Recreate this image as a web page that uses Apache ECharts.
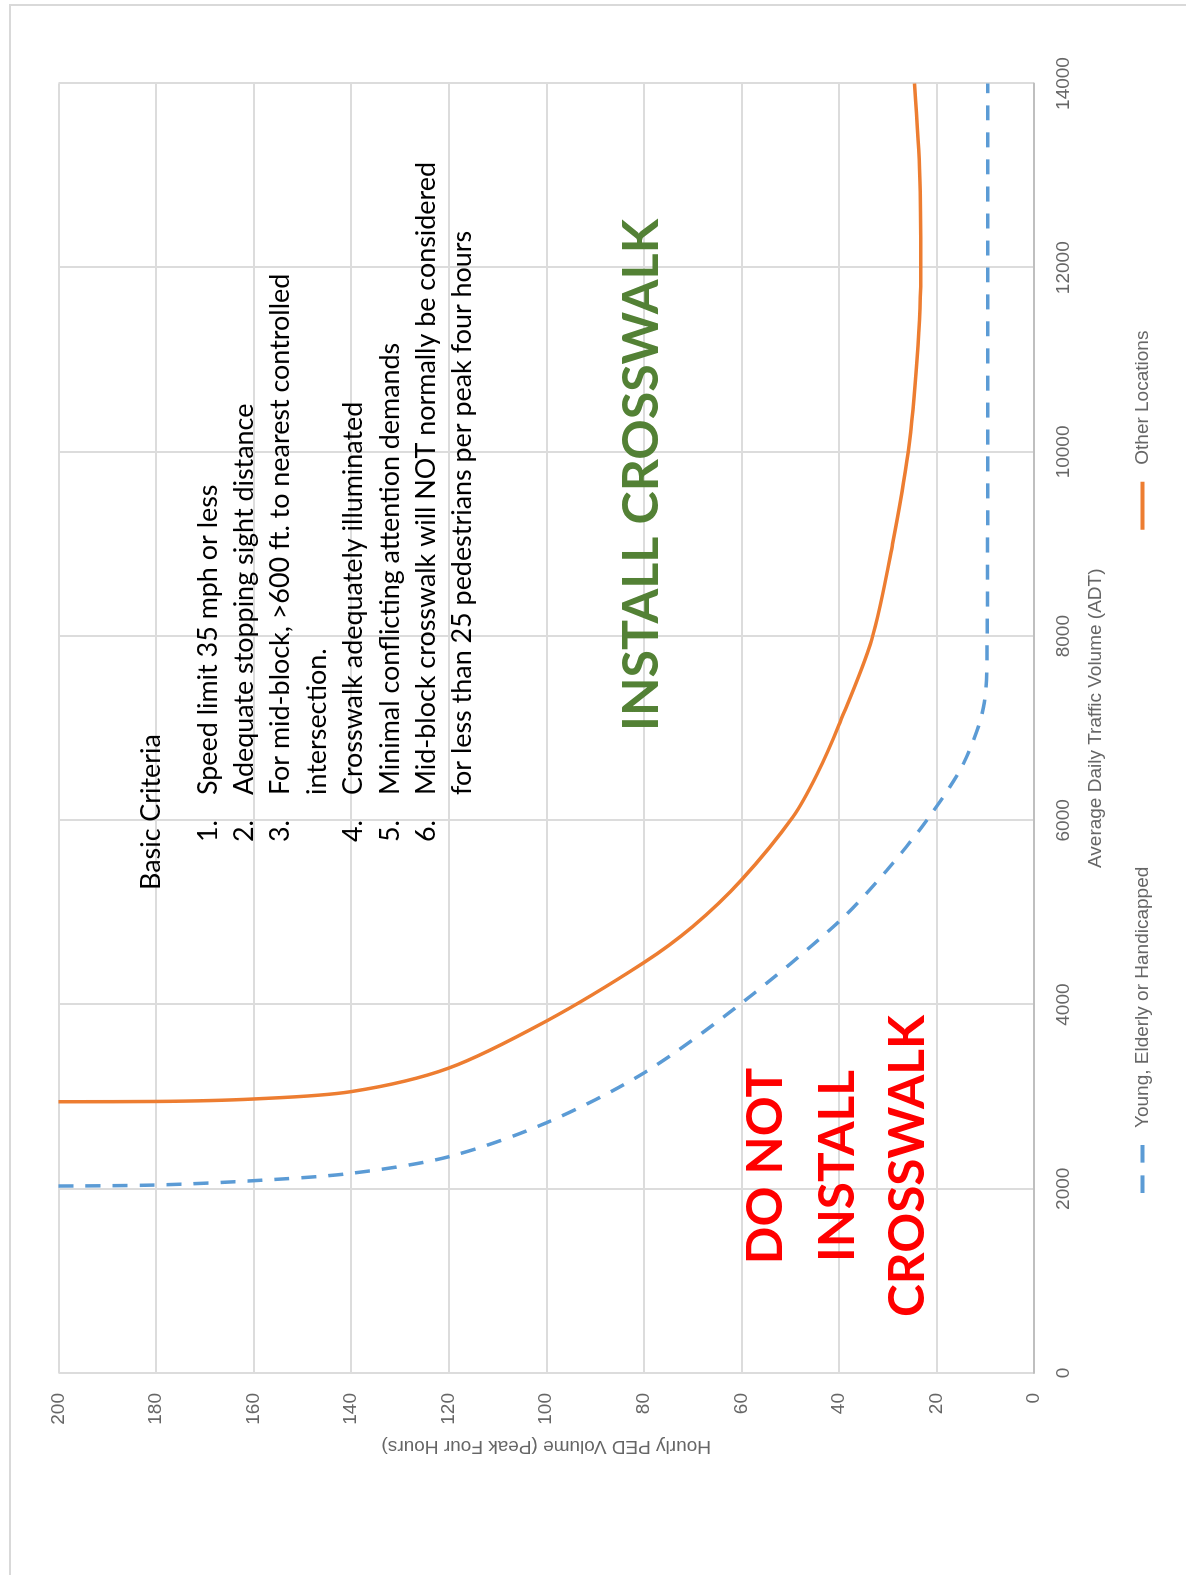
<!DOCTYPE html>
<html>
<head>
<meta charset="utf-8">
<script src="https://cdn.jsdelivr.net/npm/echarts@6/dist/echarts.min.js"></script>
<style>
  html, body { margin: 0; padding: 0; background: #fff; overflow: hidden; }
  /* chart is drawn landscape, then turned a quarter turn to the left */
  #chart {
    position: absolute; left: 0; top: 0;
    width: 1575px; height: 1186px;
    transform-origin: 0 0;
    transform: translate(0, 1575px) rotate(-90deg);
  }
</style>
</head>
<body>
<div id="chart"></div>
<script>
// ADT / hourly PED pairs
const otherAdt = [2945, 2948, 2975, 3055, 3310, 3820, 4455, 4846, 5352, 6040, 6500, 7035, 7958, 9000, 10000, 11000, 12000, 13000, 14000];
const otherPed = [200, 180, 160, 140, 120, 100, 80, 70, 60, 49.4, 44.5, 40, 33.3, 29.0, 25.8, 24.0, 23.2, 23.4, 24.5];
const youngAdt = [2030, 2041, 2088, 2168, 2348, 2716, 3257, 4014, 4900, 5450, 6022, 6623, 7274, 8000, 10000, 12000, 14000];
const youngPed = [200, 180, 160, 140, 120, 100, 80, 60, 40, 30.3, 21.7, 14.4, 10.2, 9.6, 9.5, 9.5, 9.5];

const seriesNames = ['Young, Elderly or Handicapped', 'Other Locations'];
const criteriaTitle = 'Basic Criteria';
const criteriaNums = ['1.', '2.', '3.', '', '4.', '5.', '6.', ''];
const criteriaText = [
  'Speed limit 35 mph or less',
  'Adequate stopping sight distance',
  'For mid-block, >600 ft. to nearest controlled',
  'intersection.',
  'Crosswalk adequately illuminated',
  'Minimal conflicting attention demands',
  'Mid-block crosswalk will NOT normally be considered',
  'for less than 25 pedestrians per peak four hours'
];
const installText = 'INSTALL CROSSWALK';
const doNotText = ['DO NOT', 'INSTALL', 'CROSSWALK'];

// size a font so a given string takes a given width
const measureCtx = document.createElement('canvas').getContext('2d');
function fitSize(text, weight, family, width) {
  measureCtx.font = weight + ' 100px ' + family;
  return 100 * width / measureCtx.measureText(text).width;
}

const bodyFont = 'Lato, "Open Sans", sans-serif';
const listSize = fitSize(criteriaText[6], 'normal', bodyFont, 634);
const greenSize = fitSize(installText, 'bold', bodyFont, 512);
const redSize = fitSize(doNotText[2], 'bold', bodyFont, 302);

const pairs = (xs, ys) => xs.map((x, i) => [x, ys[i]]);

const graphics = [
  {
    type: 'rect', z: 100,
    shape: { x: -10, y: 10, width: 1580, height: 1200 },
    style: { fill: 'none', stroke: '#d9d9d9', lineWidth: 2 },
    silent: true
  },
  {
    type: 'text', x: 685, y: 151, z: 100,
    style: { text: criteriaTitle, font: listSize.toFixed(1) + 'px ' + bodyFont, fill: '#000', textVerticalAlign: 'middle' }
  }
];

criteriaText.forEach((line, i) => {
  const v = 208 + i * 36.4;
  if (criteriaNums[i]) {
    graphics.push({
      type: 'text', x: 733, y: v, z: 100,
      style: { text: criteriaNums[i], font: listSize.toFixed(1) + 'px ' + bodyFont, fill: '#000', textVerticalAlign: 'middle' }
    });
  }
  graphics.push({
    type: 'text', x: 780, y: v, z: 100,
    style: { text: line, font: listSize.toFixed(1) + 'px ' + bodyFont, fill: '#000', textVerticalAlign: 'middle' }
  });
});

graphics.push({
  type: 'text', x: 1100, y: 642, z: 100,
  style: {
    text: installText, font: 'bold ' + greenSize.toFixed(1) + 'px ' + bodyFont,
    fill: '#538135', textAlign: 'center', textVerticalAlign: 'middle'
  }
});

[766, 838, 908].forEach((v, i) => {
  graphics.push({
    type: 'text', x: 409, y: v, z: 100,
    style: {
      text: doNotText[i], font: 'bold ' + redSize.toFixed(1) + 'px ' + bodyFont,
      fill: '#ff0000', textAlign: 'center', textVerticalAlign: 'middle'
    }
  });
});

const chart = echarts.init(document.getElementById('chart'));

const labelFont = '"Liberation Sans", Arial, sans-serif';

chart.setOption({
  animation: false,
  backgroundColor: '#fff',
  textStyle: { fontFamily: labelFont },
  grid: { left: 202, right: 83.5, top: 58.5, bottom: 152, containLabel: false },
  legend: {
    data: [
      { name: seriesNames[0], icon: 'path://M0,0H18V4H0Z M31,0H49V4H31Z' },
      { name: seriesNames[1], icon: 'rect' }
    ],
    left: 377,
    top: 1128,
    itemWidth: 48,
    itemHeight: 4,
    itemGap: 337,
    textStyle: { fontSize: 19, color: '#666', padding: [0, 0, 0, 12] }
  },
  xAxis: {
    type: 'value',
    min: 0,
    max: 14000,
    interval: 2000,
    name: 'Average Daily Traffic Volume (ADT)',
    nameLocation: 'middle',
    nameGap: 52,
    nameTextStyle: { fontSize: 19, color: '#666', padding: [0, 0, 0, 20] },
    axisLine: { show: true, lineStyle: { color: '#bfbfbf', width: 2 } },
    axisTick: { show: false },
    axisLabel: { fontSize: 19, color: '#666', margin: 20, formatter: (v) => String(v) },
    splitLine: { show: true, lineStyle: { color: '#dcdcdc', width: 2 } }
  },
  yAxis: {
    type: 'value',
    min: 0,
    max: 200,
    interval: 20,
    name: 'Hourly PED Volume (Peak Four Hours)',
    nameLocation: 'middle',
    nameGap: 64,
    nameTextStyle: { fontSize: 19, color: '#666' },
    axisLine: { show: false },
    axisTick: { show: false },
    axisLabel: { fontSize: 19, color: '#666', margin: 20 },
    splitLine: { show: true, lineStyle: { color: '#dcdcdc', width: 2 } }
  },
  series: [
    {
      name: seriesNames[0],
      type: 'line',
      data: pairs(youngAdt, youngPed),
      smooth: 0.3,
      showSymbol: false,
      symbol: 'none',
      lineStyle: { color: '#5b9bd5', width: 3.5, type: [15, 12] },
      itemStyle: { color: '#5b9bd5' }
    },
    {
      name: seriesNames[1],
      type: 'line',
      data: pairs(otherAdt, otherPed),
      smooth: 0.3,
      showSymbol: false,
      symbol: 'none',
      lineStyle: { color: '#ed7d31', width: 3.5 },
      itemStyle: { color: '#ed7d31' }
    }
  ],
  graphic: graphics
});
</script>
</body>
</html>
